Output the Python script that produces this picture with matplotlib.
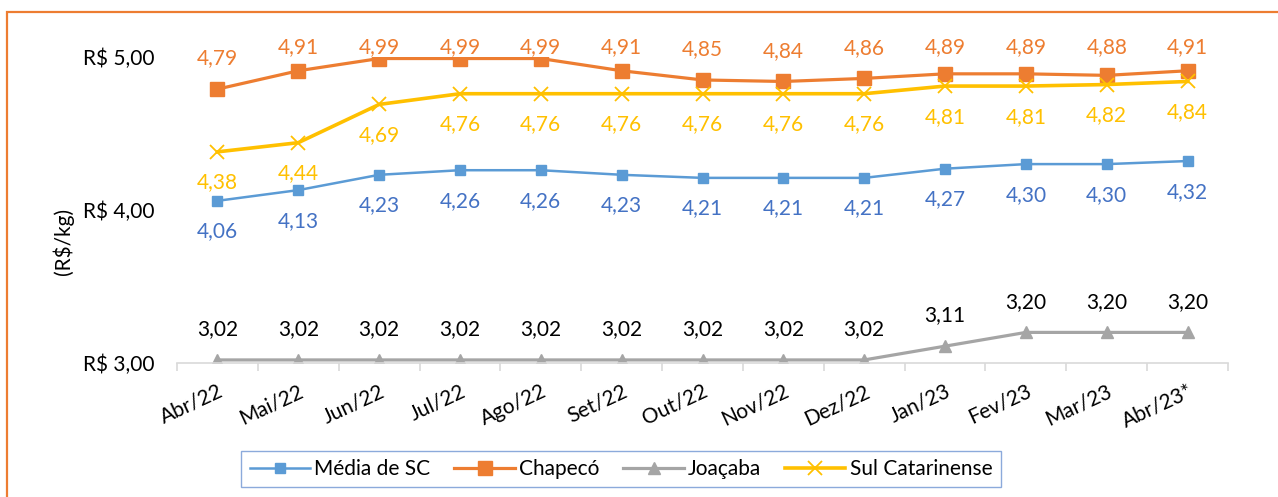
import numpy as np
import matplotlib.pyplot as plt
from matplotlib.patches import Rectangle

plt.rcParams['font.family'] = ['Lato', 'DejaVu Sans']

# dados (R$/kg)
meses = ['Abr/22', 'Mai/22', 'Jun/22', 'Jul/22', 'Ago/22', 'Set/22', 'Out/22',
         'Nov/22', 'Dez/22', 'Jan/23', 'Fev/23', 'Mar/23', 'Abr/23*']
media_sc = [4.06, 4.13, 4.23, 4.26, 4.26, 4.23, 4.21, 4.21, 4.21, 4.27, 4.30, 4.30, 4.32]
chapeco = [4.79, 4.91, 4.99, 4.99, 4.99, 4.91, 4.85, 4.84, 4.86, 4.89, 4.89, 4.88, 4.91]
joacaba = [3.02, 3.02, 3.02, 3.02, 3.02, 3.02, 3.02, 3.02, 3.02, 3.11, 3.20, 3.20, 3.20]
sul_cat = [4.38, 4.44, 4.69, 4.76, 4.76, 4.76, 4.76, 4.76, 4.76, 4.81, 4.81, 4.82, 4.84]

azul = '#5B9BD5'
azul_txt = '#4472C4'
laranja = '#ED7D31'
cinza = '#A5A5A5'
amarelo = '#FFC000'

x = np.arange(len(meses))
fs = 15

fig = plt.figure(figsize=(12.78, 4.97), dpi=100)
ax = fig.add_axes([177/1278, 1 - 363/497, (1228 - 177)/1278, 306/497])

ax.plot(x, media_sc, color=azul, lw=1.8, marker='s', ms=7, label='Média de SC')
ax.plot(x, chapeco, color=laranja, lw=2.3, marker='s', ms=10, label='Chapecó')
ax.plot(x, joacaba, color=cinza, lw=2.3, marker='^', ms=9, label='Joaçaba')
ax.plot(x, sul_cat, color=amarelo, lw=2.6, marker='x', ms=10, mew=1.3, label='Sul Catarinense')

def fmt(v):
    return '{:.2f}'.format(v).replace('.', ',')

# rótulos de dados
d = 0.2
for i in range(len(x)):
    ax.text(x[i], media_sc[i] - d, fmt(media_sc[i]), color=azul_txt, fontsize=fs,
            ha='center', va='center', clip_on=False)
    ax.text(x[i], min(chapeco[i] + d, 5.065), fmt(chapeco[i]), color=laranja, fontsize=fs,
            ha='center', va='center', clip_on=False)
    ax.text(x[i], joacaba[i] + d, fmt(joacaba[i]), color='black', fontsize=fs,
            ha='center', va='center', clip_on=False)
    ax.text(x[i], sul_cat[i] - d, fmt(sul_cat[i]), color=amarelo, fontsize=fs,
            ha='center', va='center', clip_on=False)

ax.set_xlim(-0.5, len(meses) - 0.5)
ax.set_ylim(3, 5)
ax.set_yticks([3, 4, 5])
ax.set_yticklabels(['R\\$ 3,00', 'R\\$ 4,00', 'R\\$ 5,00'], fontsize=fs)
ax.tick_params(axis='y', length=0, pad=16)

ax.set_xticks(x)
ax.set_xticklabels(meses, fontsize=fs, rotation=25, ha='right', rotation_mode='anchor')
ax.tick_params(axis='x', length=0, pad=13)
ax.set_xticks(np.arange(-0.5, len(meses)), minor=True)
ax.tick_params(axis='x', which='minor', length=6, width=1.2, color='#D9D9D9')

for s in ['top', 'right', 'left']:
    ax.spines[s].set_visible(False)
ax.spines['bottom'].set_color('#D9D9D9')
ax.spines['bottom'].set_linewidth(1.2)

fig.text(63/1278, 1 - 241/497, '(R\\$/kg)', rotation=90, fontsize=fs,
         ha='center', va='center')

leg = fig.legend(loc='center', bbox_to_anchor=(621/1278, 1 - 469/497), ncol=4,
                 fontsize=fs, frameon=True, fancybox=False, handlelength=2.9,
                 handletextpad=0.2, columnspacing=1.15, borderpad=0.4,
                 borderaxespad=0)
leg.get_frame().set_edgecolor('#6F95D3')
leg.get_frame().set_linewidth(1.0)

# moldura
fig.patches.append(Rectangle((7/1278, -0.2), 2, 1.2 - 12/497, transform=fig.transFigure,
                             fill=False, edgecolor=laranja, lw=1.6))

fig.savefig('out.png', dpi=100)
